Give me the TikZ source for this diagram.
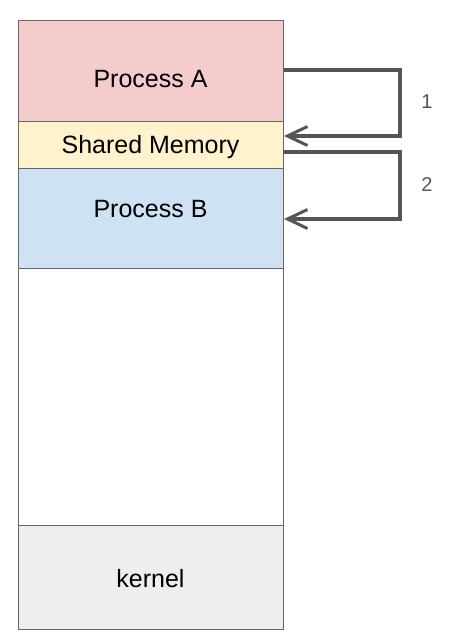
\documentclass[tikz,border=0pt]{standalone}
\usepackage{fontspec}
\setmainfont{Liberation Sans}
\usetikzlibrary{arrows.meta}
\definecolor{pinkA}{HTML}{F4CCCC}
\definecolor{yelS}{HTML}{FFF2CC}
\definecolor{bluB}{HTML}{CFE2F3}
\definecolor{greyK}{HTML}{EEEEEE}
\definecolor{edge}{HTML}{666666}
\definecolor{arr}{HTML}{555555}
\begin{document}
\begin{tikzpicture}[x=1pt,y=-1pt,
  memblock/.style={draw=edge,line width=1.2pt,minimum width=265pt,inner sep=0pt,anchor=north west},
  memtext/.style={font=\fontsize{25}{30}\selectfont},
  flow/.style={draw=arr,line width=3.2pt,-{Straight Barb[length=20pt,width=19pt,line width=3pt]}},
  numlabel/.style={text=arr,font=\fontsize{20}{24}\selectfont}]
\useasboundingbox (0,0) rectangle (451,640);
\node[memblock,fill=pinkA,minimum height=101pt] (pa) at (18,20) {};
\node[memtext] (pat) at (150.5,79) {Process A};
\node[memblock,fill=yelS,minimum height=47pt] (sm) at (18,121) {};
\node[memtext] (smt) at (150.5,147.5) {Shared Memory};
\node[memblock,fill=bluB,minimum height=100pt] (pb) at (18,168) {};
\node[memtext] (pbt) at (150.5,209) {Process B};
\node[memblock,fill=white,minimum height=257pt] (free) at (18,268) {};
\node[memblock,fill=greyK,minimum height=104pt] (kern) at (18,525) {};
\node[memtext] (kernt) at (150.5,578.5) {kernel};
\coordinate (t1) at (284,136);
\coordinate (s2) at (283,152);
\coordinate (t2) at (284,219);
\draw[flow] (pa.east |- 0,70) -- (400,70) -- (400,136) -- (t1);
\draw[flow] (s2) -- (400,152) -- (400,219) -- (t2);
\node[numlabel] (n1) at (427,102) {1};
\node[numlabel] (n2) at (427,185) {2};
\end{tikzpicture}
\end{document}
